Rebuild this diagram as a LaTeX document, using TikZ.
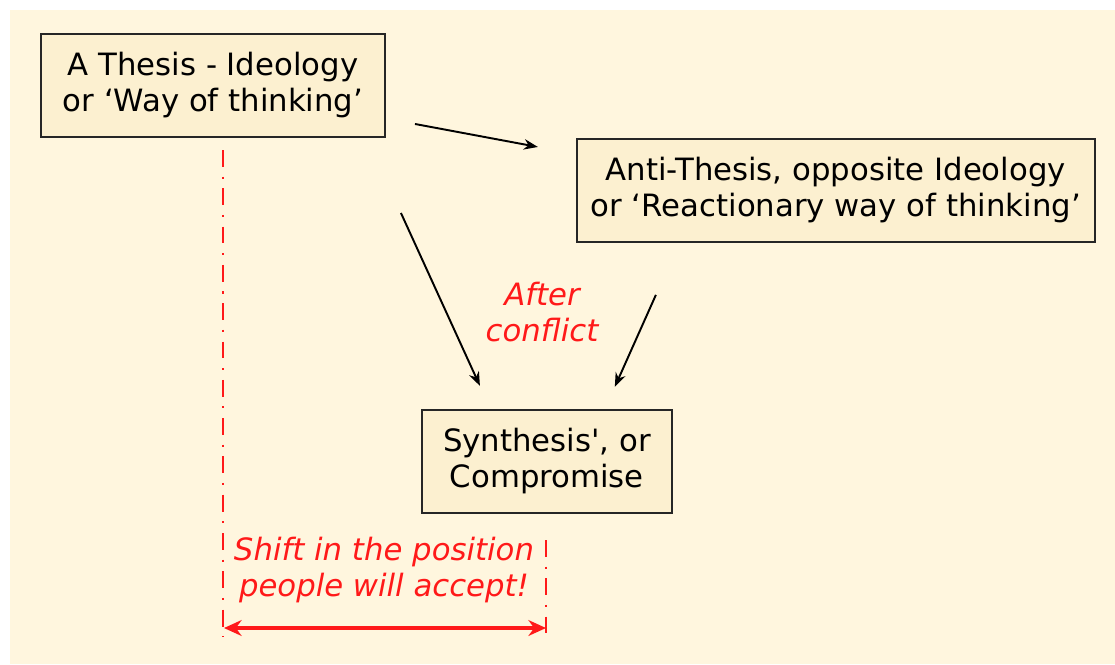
\documentclass[tikz,border=0pt]{standalone}
\usepackage{fontspec}
\setmainfont{DejaVu Sans}
\usetikzlibrary{positioning,arrows.meta}
\definecolor{paper}{RGB}{255,246,222}
\definecolor{boxfill}{RGB}{252,240,208}
\definecolor{redink}{RGB}{255,25,25}

\begin{document}
\begin{tikzpicture}[x=0.02cm,y=0.02cm]
	\tikzstyle{every node}=[font=\fontsize{17.5}{20.5}\selectfont]
	\tikzstyle{idea}=[draw=black!85,line width=1.1pt,fill=boxfill,align=center,minimum height=2.06cm,inner sep=0pt]
	\tikzstyle{remark}=[text=redink,align=center,font=\fontsize{17.5}{20.5}\selectfont\itshape]
	\tikzstyle{flow}=[draw,-{Stealth[length=8pt,width=6pt]},line width=1.1pt]
	\tikzstyle{marker}=[draw=redink,line width=0.9pt,dash pattern=on 9.6pt off 5.5pt on 1.2pt off 5.5pt]
	\tikzstyle{span}=[draw=redink,{Stealth[length=10pt,width=9pt]}-{Stealth[length=10pt,width=9pt]},line width=2.2pt]

	\useasboundingbox (0,0) rectangle (1115,-664);
	\fill[paper] (10,-10) rectangle (1115,-664);

	\node[idea,minimum width=6.88cm] (T) at (213,-85.5) {A Thesis - Ideology\\or ‘Way of thinking’};
	\node[idea,minimum width=10.36cm,below right=0cm and 3.8cm of T] (A) {Anti-Thesis, opposite Ideology\\or ‘Reactionary way of thinking’};
	\node[idea,minimum width=5cm,below right=5.42cm and 0.7cm of T] (S) {Synthesis\textquotesingle, or\\Compromise};

	\draw[flow] ([shift={(29,14)}]T.south east) -- ([shift={(-38,-9)}]A.north west);
	\draw[flow] ([shift={(15,-75)}]T.south east) -- ([shift={(59,23)}]S.north west);
	\draw[flow] ([shift={(80,-52)}]A.south west) -- ([shift={(-58,22)}]S.north east);

	\node[remark] (C) at (542,-312) {After\\conflict};
	\node[remark] (P) at (384,-570) {Shift in the position\\people will accept!};

	% limits of the shift
	\coordinate (L1) at (223,-150);
	\coordinate (L2) at (223,-637);
	\coordinate (R1) at (546,-540);
	\coordinate (R2) at (546,-637);
	\draw[marker] (L1) -- (L2);
	\draw[marker] (R1) -- (R2);
	\draw[span] ([shift={(1,9)}]L2) -- ([shift={(0,9)}]R2);
\end{tikzpicture}
\end{document}
